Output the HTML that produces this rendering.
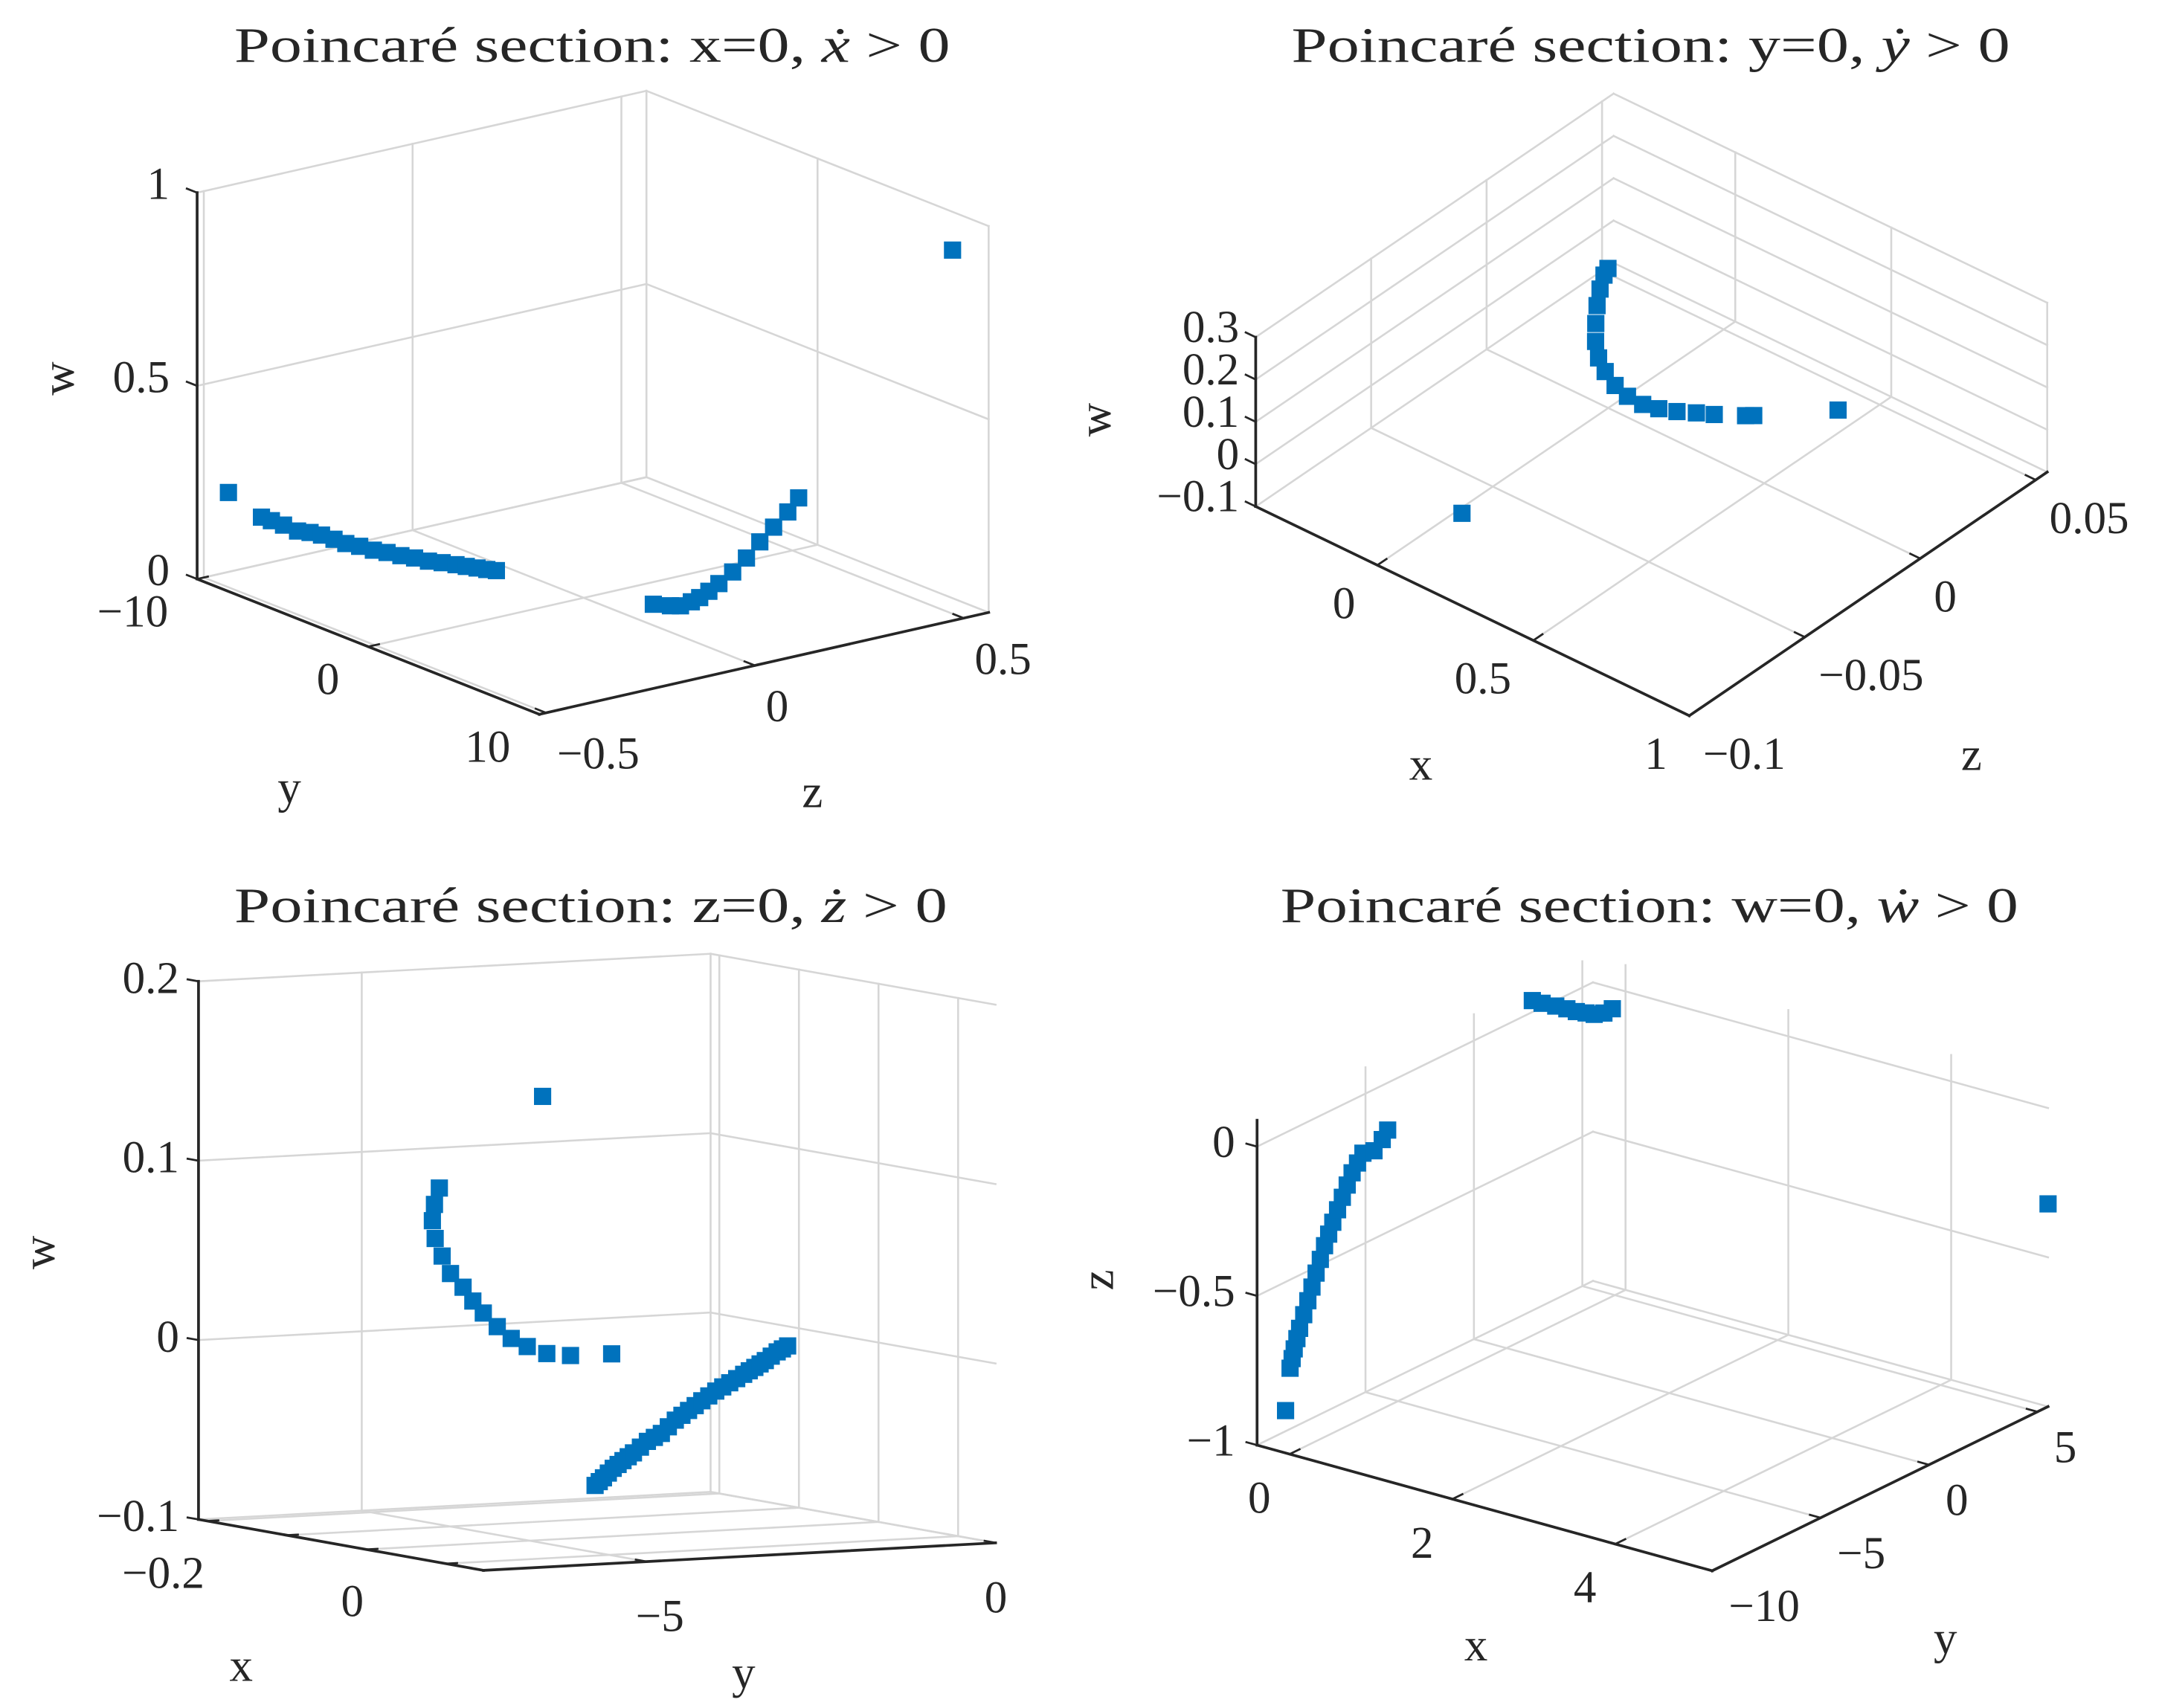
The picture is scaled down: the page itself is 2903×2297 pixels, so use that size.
<!DOCTYPE html>
<html><head><meta charset="utf-8">
<style>
html,body{margin:0;padding:0;background:#fff;}
svg{display:block;}
text{font-family:"Liberation Serif",serif;fill:#262626;}
</style></head>
<body>
<svg id="fig" xmlns="http://www.w3.org/2000/svg" width="2903" height="2297" viewBox="0 0 1568 1241">
<rect x="0" y="0" width="1568" height="1241" fill="#fff"/>
</svg>
<script>
// ---- Panel 1: x=0 section (axes y, z, w)
const p1Y = [-8.17,-6.24,-5.66,-4.95,-4.13,-3.4,-2.73,-2.0,-1.31,-0.5,0.30,1.1,1.91,2.71,3.52,4.32,5.13,5.73,6.36,6.93,7.49,
  10,10,10,10,10,10,10,10,10,10,10,10,10, 7.89];
const p1Z = [-0.516,-0.516,-0.516,-0.516,-0.516,-0.516,-0.516,-0.516,-0.516,-0.516,-0.516,-0.516,-0.516,-0.516,-0.516,-0.516,-0.516,-0.516,-0.516,-0.516,-0.516,
  -0.243,-0.202,-0.178,-0.152,-0.132,-0.110,-0.086,-0.053,-0.02,0.012,0.045,0.079,0.105, 0.56];
const p1W = [0.256,0.226,0.227,0.228,0.227,0.236,0.241,0.243,0.244,0.251,0.255,0.263,0.269,0.277,0.283,0.293,0.302,0.308,0.315,0.321,0.328,
  0.218,0.204,0.198,0.202,0.208,0.219,0.233,0.255,0.283,0.317,0.347,0.378,0.408, 0.901];
const p1TicksY = [-10,0,10];
const p1TicksZ = [-0.5,0,0.5];
const p1TicksW = [0,0.5,1];
const p1LabelsY = ["\u221210","0","10"];
const p1LabelsZ = ["\u22120.5","0","0.5"];
const p1LabelsW = ["0","0.5","1"];

// ---- Panel 2: y=0 section (axes x, z, w)
const p2X = [-0.152,-0.141,-0.11,-0.070,-0.023,0.026,0.077,0.127,0.184,0.237,0.288,0.330,0.372,0.412,0.45,0.512,0.527,0.67,0.249];
const p2Z = [0.0204,0.0172,0.0113,0.0046,-0.0023,-0.009,-0.0146,-0.0185,-0.0219,-0.0237,-0.024,-0.0227,-0.0205,-0.0175,-0.0149,-0.0097,-0.0082,0.009,-0.097];
const p2W = [0.1,0.1,0.1,0.1,0.1,0.1,0.1,0.1,0.1,0.1,0.1,0.1,0.1,0.1,0.1,0.1,0.1,0.1,0.1];
const p2TicksX = [0,0.5,1];
const p2TicksZ = [-0.1,-0.05,0,0.05];
const p2TicksW = [-0.1,0,0.1,0.2,0.3];
const p2LabelsX = ["0","0.5","1"];
const p2LabelsZ = ["\u22120.1","\u22120.05","0","0.05"];
const p2LabelsW = ["\u22120.1","0","0.1","0.2","0.3"];

// ---- Panel 3: z=0 section (axes x, y, w)
const p3ArcY = [-5.93,-6.0,-6.03,-5.99,-5.89,-5.77,-5.59,-5.45,-5.30,-5.10,-4.90,-4.67,-4.39,-4.05,-3.46,-4.45];
const p3ArcW = [0.096,0.087,0.078,0.068,0.058,0.048,0.040,0.032,0.025,0.017,0.010,0.005,0.0005,-0.0013,-0.0016,0.144];
const p3LineY = [-5.74,-5.68,-5.62,-5.55,-5.48,-5.41,-5.34,-5.265,-5.19,-5.09,-4.99,-4.89,-4.79,-4.69,-4.59,-4.495,-4.40,-4.305,-4.21,-4.11,-4.01,-3.91,-3.81,-3.71,-3.61,-3.53,-3.45,-3.375,-3.30,-3.215,-3.13,-3.055,-2.98];
const p3LineW = [-0.056,-0.054,-0.052,-0.0495,-0.047,-0.045,-0.043,-0.041,-0.039,-0.036,-0.033,-0.031,-0.029,-0.0255,-0.022,-0.0195,-0.017,-0.0145,-0.012,-0.0095,-0.007,-0.0049,-0.0028,-0.0007,0.0015,0.0033,0.005,0.0068,0.0085,0.0108,0.013,0.0145,0.016];
const p3ArcX = -0.032;
const p3LineX = 0.147;
const p3X = p3ArcY.map(() => p3ArcX).concat(p3LineY.map(() => p3LineX));
const p3Y = p3ArcY.concat(p3LineY);
const p3W = p3ArcW.concat(p3LineW);
const p3TicksX = [-0.2,-0.1,0,0.1];
const p3TicksY = [-5,0];
const p3TicksW = [-0.1,0,0.1,0.2];
const p3LabelValsX = [-0.2,0];
const p3LabelsX = ["\u22120.2","0"];
const p3LabelsY = ["\u22125","0"];
const p3LabelsW = ["\u22120.1","0","0.1","0.2"];

// ---- Panel 4: w=0 section (axes x, y, z)
const p4X = [0,0,0,0,0,0,0,0,0,0,0,0,0,0,0,0,0,0,0,0,0,0,-0.05,
  -0.162,-0.042,0.11,0.241,0.36,0.459,0.545,0.60,0.597, 5.19];
const p4Y = [-9.98,-9.885,-9.79,-9.665,-9.54,-9.35,-9.16,-8.97,-8.78,-8.585,-8.39,-8.2,-8.01,-7.79,-7.57,-7.345,-7.12,-6.87,-6.62,-6.11,-5.73,-5.48,-10,
  1.80,1.80,1.86,1.88,1.87,1.95,2.0,2.24,2.64, 5.49];
const p4Z = [-0.713,-0.684,-0.655,-0.625,-0.595,-0.556,-0.516,-0.477,-0.437,-0.398,-0.359,-0.327,-0.294,-0.26,-0.226,-0.193,-0.16,-0.136,-0.112,-0.122,-0.098,-0.075,-0.858,
  0.088,0.088,0.088,0.088,0.088,0.088,0.088,0.088,0.088, -0.321];
const p4TicksX = [0,2,4];
const p4TicksY = [-10,-5,0,5];
const p4TicksZ = [-1,-0.5,0];
const p4LabelsX = ["0","2","4"];
const p4LabelsY = ["\u221210","\u22125","0","5"];
const p4LabelsZ = ["\u22121","\u22120.5","0"];

const NS = "http://www.w3.org/2000/svg";
const svg = document.getElementById('fig');
function mk(tag, attrs, parent){
  const el = document.createElementNS(NS, tag);
  for (const k in attrs) el.setAttribute(k, attrs[k]);
  (parent||svg).appendChild(el);
  return el;
}

const panels = [
  {key:'p1', P0:[143,420.7], A:[248.6,98.3], B:[326.4,-74], C:[0,-280.7],
   rA:[-10,10], rB:[-0.516,0.56], rC:[0,1],
   dA:p1Y, dB:p1Z, dC:p1W,
   tA:p1TicksY, tB:p1TicksZ, tC:p1TicksW,
   lA:{v:p1TicksY,s:p1LabelsY,off:[-21,24],anchor:'end'},
   lB:{v:p1TicksZ,s:p1LabelsZ,off:[8,30],anchor:'start'},
   lC:{v:p1TicksW,s:p1LabelsW,off:[-20,-6],anchor:'end'},
   title:{x:430,y:33,w:520,pre:"Poincaré section:  x=0, ",dot:"ẋ",post:" > 0"},
   axA:{t:'y',x:210,y:572}, axB:{t:'z',x:590,y:575}, axC:{t:'w',x:42,y:275}},
  {key:'p2', P0:[912,368], A:[315,152], B:[260,-177], C:[0,-123],
   rA:[-0.39,1], rB:[-0.1,0.055], rC:[-0.1,0.3],
   dA:p2X, dB:p2Z, dC:p2W,
   tA:p2TicksX, tB:p2TicksZ, tC:p2TicksW,
   lA:{v:p2TicksX,s:p2LabelsX,off:[-16,28],anchor:'end'},
   lB:{v:p2TicksZ,s:p2LabelsZ,off:[10,28],anchor:'start'},
   lC:{v:p2TicksW,s:p2LabelsW,off:[-12,-7],anchor:'end'},
   title:{x:1199,y:33,w:522,pre:"Poincaré section:  y=0, ",dot:"ẏ",post:" > 0"},
   axA:{t:'x',x:1032,y:555}, axB:{t:'z',x:1432,y:548}, axC:{t:'w',x:795,y:305}},
  {key:'p3', P0:[144,1104], A:[207,37], B:[372,-20], C:[0,-391],
   rA:[-0.211,0.147], rB:[-7.34,0], rC:[-0.1,0.2],
   dA:p3X, dB:p3Y, dC:p3W,
   tA:p3TicksX, tB:p3TicksY, tC:p3TicksW,
   lA:{v:p3LabelValsX,s:p3LabelsX,off:[-2,38],anchor:'end'},
   lB:{v:p3TicksY,s:p3LabelsY,off:[-8,40],anchor:'start'},
   lC:{v:p3TicksW,s:p3LabelsW,off:[-14,-2],anchor:'end'},
   title:{x:429,y:658,w:518,pre:"Poincaré section:  z=0, ",dot:"ż",post:" > 0"},
   axA:{t:'x',x:175,y:1210}, axB:{t:'y',x:540,y:1215}, axC:{t:'w',x:28,y:910}},
  {key:'p4', P0:[913,1050], A:[330.6,91.3], B:[244,-119.3], C:[0,-236],
   rA:[-0.4,5.19], rB:[-10,5.49], rC:[-1,0.088],
   dA:p4X, dB:p4Y, dC:p4Z,
   tA:p4TicksX, tB:p4TicksY, tC:p4TicksZ,
   lA:{v:p4TicksX,s:p4LabelsX,off:[-22,32],anchor:'middle'},
   lB:{v:p4TicksY,s:p4LabelsY,off:[12,26],anchor:'start'},
   lC:{v:p4TicksZ,s:p4LabelsZ,off:[-16,-3],anchor:'end'},
   title:{x:1198,y:658,w:536,pre:"Poincaré section:  w=0, ",dot:"ẇ",post:" > 0"},
   axA:{t:'x',x:1072,y:1195}, axB:{t:'y',x:1413,y:1190}, axC:{t:'z',x:797,y:930}}
];

function drawPanel(p){
  const g = mk('g', {});
  
  
  const fa = v => (v - p.rA[0]) / (p.rA[1] - p.rA[0]);
  const fb = v => (v - p.rB[0]) / (p.rB[1] - p.rB[0]);
  const fc = v => (v - p.rC[0]) / (p.rC[1] - p.rC[0]);
  const P = (u,v,t) => [p.P0[0] + u*p.A[0] + v*p.B[0] + t*p.C[0], p.P0[1] + u*p.A[1] + v*p.B[1] + t*p.C[1]];
  const line = (a,b,stroke,w,name) => {
    const l = mk('line', {x1:a[0],y1:a[1],x2:b[0],y2:b[1],stroke:stroke,'stroke-width':w,'stroke-linecap':'square'}, g);
    
    
    return l;
  };
  const gc = '#d6d6d6', gw = 1.4;
  p.tA.forEach(v => { const u = fa(v);
    line(P(u,0,0), P(u,1,0), gc, gw, 'grid-line');
    line(P(u,1,0), P(u,1,1), gc, gw, 'grid-line'); });
  p.tB.forEach(v => { const b = fb(v);
    line(P(0,b,0), P(1,b,0), gc, gw, 'grid-line');
    line(P(0,b,0), P(0,b,1), gc, gw, 'grid-line'); });
  p.tC.forEach(v => { const t = fc(v);
    line(P(0,0,t), P(0,1,t), gc, gw, 'grid-line');
    line(P(0,1,t), P(1,1,t), gc, gw, 'grid-line'); });
  line(P(0,0,0), P(1,0,0), '#262626', 2, 'axis-line-a');
  line(P(1,0,0), P(1,1,0), '#262626', 2, 'axis-line-b');
  line(P(0,0,0), P(0,0,1), '#262626', 2, 'axis-line-c');
  const nrm = v => { const L = Math.hypot(v[0],v[1]); return [v[0]/L, v[1]/L]; };
  const nB = nrm(p.B), nA = nrm(p.A);
  const tl = 8;
  p.tA.forEach(v => { const q = P(fa(v),0,0); line(q, [q[0]+nB[0]*tl, q[1]+nB[1]*tl], '#262626', 1.5, 'tick-mark'); });
  p.tB.forEach(v => { const q = P(1,fb(v),0); line(q, [q[0]-nA[0]*tl, q[1]-nA[1]*tl], '#262626', 1.5, 'tick-mark'); });
  p.tC.forEach(v => { const q = P(0,0,fc(v)); line(q, [q[0]-nA[0]*tl, q[1]-nA[1]*tl], '#262626', 1.5, 'tick-mark'); });
  const lab = (q, s, off, anchor) => {
    const t = mk('text', {x:q[0]+off[0], y:q[1]+off[1], 'font-size':33, 'text-anchor':anchor, 'dominant-baseline':'central'}, g);
    t.textContent = s;
    
    
  };
  p.lA.v.forEach((v,i) => lab(P(fa(v),0,0), p.lA.s[i], p.lA.off, p.lA.anchor));
  p.lB.v.forEach((v,i) => lab(P(1,fb(v),0), p.lB.s[i], p.lB.off, p.lB.anchor));
  p.lC.v.forEach((v,i) => lab(P(0,0,fc(v)), p.lC.s[i], p.lC.off, p.lC.anchor));
  [['a',p.axA,0],['b',p.axB,0],['c',p.axC,-90]].forEach(([k,a,rot]) => {
    const t = mk('text', {x:a.x, y:a.y, 'font-size':34, 'text-anchor':'middle', 'dominant-baseline':'central',
      transform: rot ? `rotate(${rot} ${a.x} ${a.y})` : ''}, g);
    t.textContent = a.t;
    
    
  });
  const tt = mk('text', {x:p.title.x, y:p.title.y, 'font-size':36, 'text-anchor':'middle', 'dominant-baseline':'central',
    textLength:p.title.w, lengthAdjust:'spacingAndGlyphs', fill:'#000'}, g);
  
  
  const s1 = mk('tspan', {}, tt); s1.textContent = p.title.pre;
  const s2 = mk('tspan', {'font-style':'italic'}, tt); s2.textContent = p.title.dot;
  const s3 = mk('tspan', {}, tt); s3.textContent = p.title.post;
  const ms = 12.5;
  const dg = mk('g', {fill:'#0072BD'}, g);
  
  
  for (let i = 0; i < p.dA.length; i++) {
    const q = P(fa(p.dA[i]), fb(p.dB[i]), fc(p.dC[i]));
    const r = mk('rect', {x:q[0]-ms/2, y:q[1]-ms/2, width:ms, height:ms}, dg);
    
    
  }
}
panels.forEach(drawPanel);
</script>
</body></html>
